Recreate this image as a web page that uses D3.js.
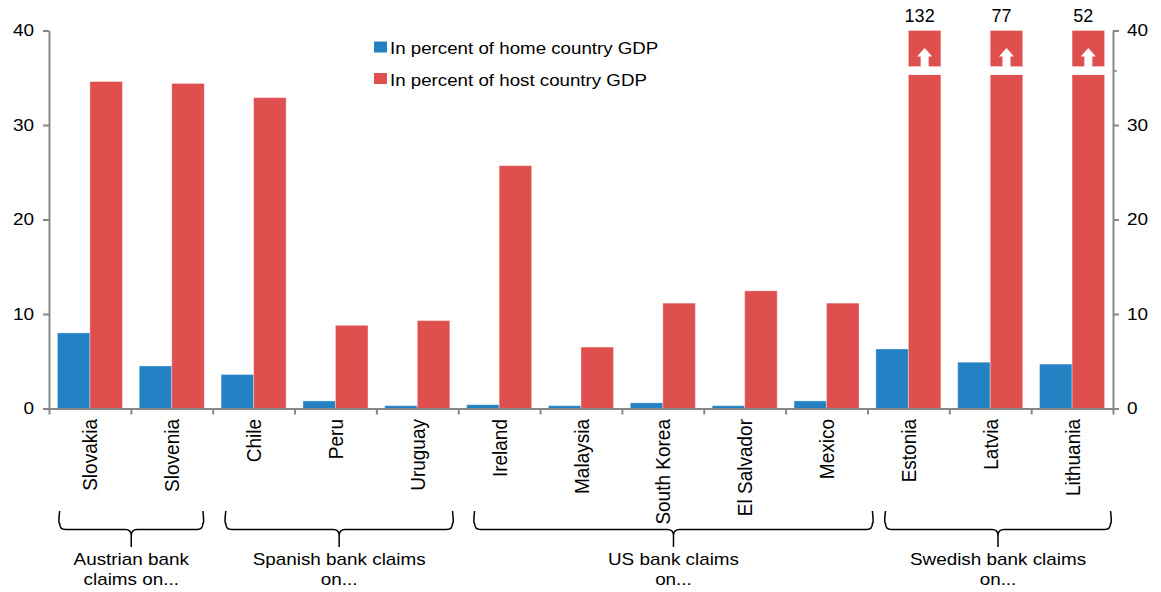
<!DOCTYPE html>
<html>
<head>
<meta charset="utf-8">
<script src="https://cdn.jsdelivr.net/npm/d3@7"></script>
<style>
  html, body { margin: 0; padding: 0; background: #fff; }
  svg { display: block; font-family: "Liberation Sans", Arial, sans-serif; }
</style>
</head>
<body>
<svg id="chart" width="1161" height="592"></svg>
<script>
// ---------- data ----------
const categories = ["Slovakia","Slovenia","Chile","Peru","Uruguay","Ireland","Malaysia","South Korea","El Salvador","Mexico","Estonia","Latvia","Lithuania"];
const homeGDP = [8.0, 4.5, 3.6, 0.8, 0.3, 0.4, 0.3, 0.6, 0.3, 0.8, 6.3, 4.9, 4.7];
const hostGDP = [34.6, 34.4, 32.9, 8.8, 9.3, 25.7, 6.5, 11.15, 12.45, 11.15, 132, 77, 52];
const seriesNames = ["In percent of home country GDP", "In percent of host country GDP"];
const yTicks = [0, 10, 20, 30, 40];
const yMax = 40;
const breakBand = [35.3, 36.2];   // axis-unit band where the clipped bars are broken
const groups = [
  { lines: ["Austrian bank", "claims on..."], span: [0.13, 1.88] },
  { lines: ["Spanish bank claims", "on..."], span: [2.16, 4.93] },
  { lines: ["US bank claims", "on..."], span: [5.2, 10.06] },
  { lines: ["Swedish bank claims", "on..."], span: [10.22, 12.97] }
];

// ---------- styles ----------
const BLUE = "#2381C4", RED = "#DE4F4E", AXIS = "#878787";
const svg = d3.select("#chart");

const x = d3.scaleBand().domain(categories).range([49, 1113]).paddingInner(0).paddingOuter(0);
const xi = d3.scaleBand().domain([0, 1]).range([0, x.bandwidth()]).paddingInner(0).paddingOuter(0.259);
const xIdx = d3.scaleLinear().domain([0, categories.length]).range([49, 1113]);
const y = d3.scaleLinear().domain([0, yMax]).range([408.5, 30.5]);

const rows = categories.map((c, i) => ({ c, i, v: [homeGDP[i], hostGDP[i]] }));

// bars
const g = svg.append("g");
rows.forEach(r => {
  [0, 1].forEach(s => {
    const val = Math.min(r.v[s], yMax);
    g.append("rect")
      .attr("x", x(r.c) + xi(s))
      .attr("y", y(val))
      .attr("width", xi.bandwidth())
      .attr("height", y(0) - y(val))
      .attr("fill", s === 0 ? BLUE : RED)
      .attr("stroke", "rgba(255,255,255,0.35)")
      .attr("stroke-width", 1);
  });
});

// clipped bars: break, arrow, value label
rows.filter(r => r.v[1] > yMax).forEach(r => {
  const bx = x(r.c) + xi(1), bw = xi.bandwidth(), cx = bx + bw / 2;
  const gTop = y(breakBand[1]), gBot = y(breakBand[0]);
  g.append("rect").attr("x", bx - 1).attr("y", gTop).attr("width", bw + 2).attr("height", gBot - gTop).attr("fill", "#fff");
  const tip = y(yMax) + 17.5, headBase = tip + 8.5;
  g.append("path")
    .attr("d", `M${cx},${tip} L${cx + 7.5},${headBase} L${cx + 4},${headBase} L${cx + 4},${gTop + 1} L${cx - 4},${gTop + 1} L${cx - 4},${headBase} L${cx - 7.5},${headBase} Z`)
    .attr("fill", "#fff");
  svg.append("text")
    .attr("x", cx - 5).attr("y", 22)
    .attr("text-anchor", "middle")
    .attr("font-size", 18).attr("fill", "#000")
    .text(d3.format("d")(r.v[1]));
});

function stretchText(sel, sx) {
  sel.each(function () {
    const xx = +this.getAttribute("x") || 0;
    this.setAttribute("x", 0);
    this.setAttribute("transform", `translate(${xx},0) scale(${sx},1)`);
  });
}

// left axis
const la = svg.append("g").attr("transform", "translate(49,0)")
  .call(d3.axisLeft(y).tickValues(yTicks).tickSize(6).tickSizeOuter(0).tickPadding(9));
// right axis
const ra = svg.append("g").attr("transform", "translate(1113,0)")
  .call(d3.axisRight(y).tickValues(yTicks).tickSize(6).tickSizeOuter(0).tickPadding(8));
[la, ra].forEach(a => {
  a.select(".domain").attr("stroke", AXIS).attr("stroke-width", 2);
  a.selectAll(".tick line").attr("stroke", AXIS).attr("stroke-width", 2);
  a.selectAll(".tick text").attr("font-size", 16.5).attr("fill", "#000")
    .attr("font-family", "'Liberation Sans', Arial, sans-serif");
  stretchText(a.selectAll(".tick text"), 1.15);
});
ra.append("line").attr("x1", 0).attr("x2", 4).attr("y1", y(breakBand[0]) - 4).attr("y2", y(breakBand[0]) - 4)
  .attr("stroke", AXIS).attr("stroke-width", 1.5);

// bottom axis (category boundaries)
const ba = svg.append("g").attr("transform", `translate(0,${y(0)})`)
  .call(d3.axisBottom(xIdx).tickValues(d3.range(categories.length + 1)).tickFormat("").tickSize(6).tickSizeOuter(0));
ba.select(".domain").attr("stroke", AXIS).attr("stroke-width", 2);
ba.selectAll(".tick line").attr("stroke", AXIS).attr("stroke-width", 2);

// category labels
categories.forEach(c => {
  svg.append("text")
    .attr("transform", `translate(${x(c) + x.bandwidth() / 2},419) scale(1.1,1) rotate(-90)`)
    .attr("text-anchor", "end")
    .attr("dy", "0.36em")
    .attr("font-size", 19).attr("fill", "#000")
    .text(c);
});

// legend
const leg = svg.append("g");
seriesNames.forEach((s, i) => {
  const yy = 47 + i * 31.5;
  leg.append("rect").attr("x", 374).attr("y", yy - 5.5).attr("width", 13).attr("height", 11)
    .attr("fill", i === 0 ? BLUE : RED);
  leg.append("text")
    .attr("transform", `translate(390,${yy + 7}) scale(1.17,1)`)
    .attr("font-size", 16).attr("fill", "#000")
    .text(s);
});

// group brackets
const yArm = 511, yH = 529.5, ySpike = 547, rr = 6;
groups.forEach(gr => {
  const x0 = xIdx(gr.span[0]), x1 = xIdx(gr.span[1]), xm = (x0 + x1) / 2;
  const p = `M${x0},${yArm} Q${x0 - 1.5},${yH - rr} ${x0},${yH - rr} L${x0},${yH - rr} Q${x0},${yH} ${x0 + rr},${yH}
    L${xm - rr},${yH} Q${xm},${yH} ${xm},${yH + rr} L${xm},${ySpike}
    M${xm},${yH + rr} Q${xm},${yH} ${xm + rr},${yH} L${x1 - rr},${yH} Q${x1},${yH} ${x1},${yH - rr} Q${x1 + 1.5},${yH - rr} ${x1},${yArm}`;
  svg.append("path").attr("d", p).attr("fill", "none").attr("stroke", "#000").attr("stroke-width", 1.5);
  gr.lines.forEach((ln, k) => {
    svg.append("text")
      .attr("transform", `translate(${xm},${565 + k * 19.5}) scale(1.18,1)`)
      .attr("text-anchor", "middle")
      .attr("font-size", 16).attr("fill", "#000")
      .text(ln);
  });
});
</script>
</body>
</html>
